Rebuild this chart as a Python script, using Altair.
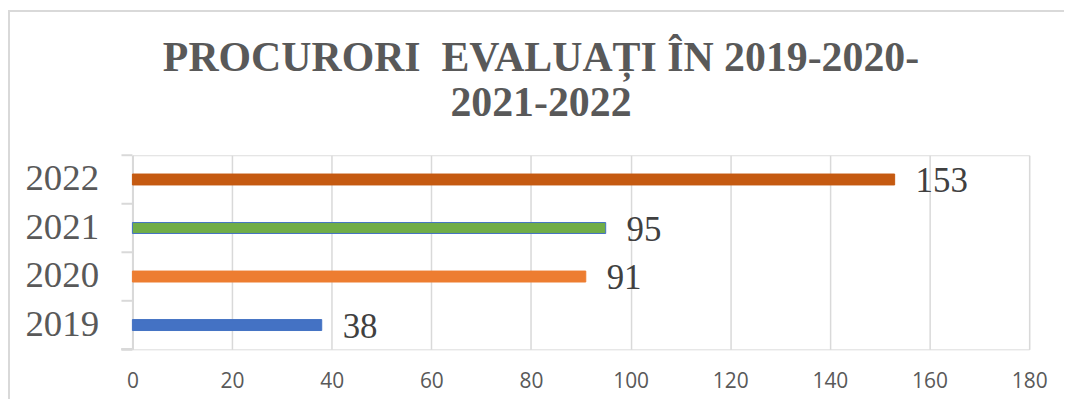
import altair as alt
import pandas as pd

years = ["2019", "2020", "2021", "2022"]
values = [38, 91, 95, 153]
bar_colors = ["#4472C4", "#ED7D31", "#70AD47", "#C55A11"]
bar_strokes = ["#4472C4", "#ED7D31", "#4472C4", "#C55A11"]
x_ticks = [0, 20, 40, 60, 80, 100, 120, 140, 160, 180]
title_lines = ["PROCURORI\u00a0\u00a0EVALUAȚI ÎN 2019-2020-", "2021-2022"]

df = pd.DataFrame({"year": years, "value": values})
order = list(reversed(years))

W, H = 901, 195

yenc = alt.Y(
    "year:N",
    sort=order,
    scale=alt.Scale(paddingInner=0, paddingOuter=0),
    axis=alt.Axis(
        title=None,
        ticks=False,
        domain=True,
        domainColor="#d9d9d9",
        domainWidth=2,
        labelFont="Liberation Serif",
        labelFontSize=37,
        labelColor="#595959",
        labelPadding=34,
        grid=False,
    ),
)

xenc = alt.X(
    "value:Q",
    scale=alt.Scale(domain=[0, 180], nice=False),
    axis=alt.Axis(
        title=None,
        values=x_ticks,
        ticks=False,
        domain=False,
        grid=True,
        gridColor="#d9d9d9",
        gridWidth=1.5,
        labelFont="Open Sans",
        labelFontSize=21,
        labelColor="#595959",
        labelPadding=21,
        labelFlush=False,
    ),
)

base = alt.Chart(df)

bars = base.mark_bar(size=11, strokeWidth=1).encode(
    y=yenc,
    x=xenc,
    color=alt.Color("year:N", scale=alt.Scale(domain=years, range=bar_colors), legend=None),
    stroke=alt.Stroke("year:N", scale=alt.Scale(domain=years, range=bar_strokes), legend=None),
)

labels = base.mark_text(
    align="left", baseline="middle", dx=21, dy=2,
    font="Liberation Serif", fontSize=35, color="#404040",
).encode(y=alt.Y("year:N", sort=order), x="value:Q", text="value:Q")

band_ticks = base.mark_rule(color="#d9d9d9", strokeWidth=2).encode(
    y=alt.Y("year:N", sort=order, bandPosition=0),
    x=alt.value(-11),
    x2=alt.value(0),
)

bottom_tick = base.mark_rule(color="#d9d9d9", strokeWidth=2).encode(
    y=alt.value(H), x=alt.value(-11), x2=alt.value(0)
)

frame_top = base.mark_rule(color="#d9d9d9", strokeWidth=2).encode(
    y=alt.value(-145), x=alt.value(-125), x2=alt.value(937)
)
frame_left = base.mark_rule(color="#d9d9d9", strokeWidth=2).encode(
    x=alt.value(-124), y=alt.value(-145), y2=alt.value(H + 50)
)

chart = (
    alt.layer(frame_top, frame_left, band_ticks, bottom_tick, bars, labels)
    .properties(
        width=W,
        height=H,
        autosize=alt.AutoSizeParams(type="none"),
        padding={"left": 125, "top": 147, "right": 35, "bottom": 50},
        title=alt.TitleParams(
            text=title_lines,
            font="Liberation Serif",
            fontSize=42,
            fontWeight="bold",
            color="#595959",
            lineHeight=46,
            anchor="middle",
            frame="group",
            dx=-40,
            offset=-116,
        ),
    )
    .configure_view(stroke=None)
    .configure(background="white")
)

chart.save("out.html", embed_options={"renderer": "svg", "actions": False})
